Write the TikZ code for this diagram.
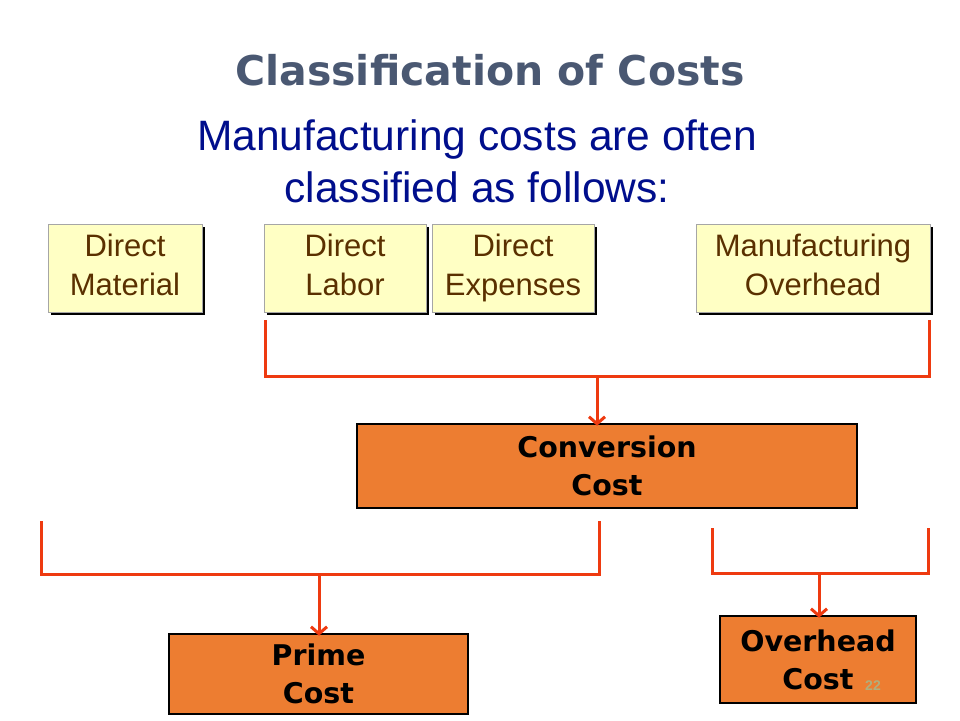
\documentclass[tikz,border=0pt]{standalone}
\usepackage{fontspec}
\setmainfont{Liberation Sans}
\newfontfamily\heavy{DejaVu Sans}
\usetikzlibrary{shadows,arrows.meta}
\definecolor{obx}{HTML}{ED7D31}
\definecolor{rln}{HTML}{EE3A10}
\definecolor{ttl}{HTML}{4A5872}
\definecolor{sbt}{HTML}{000E8C}
\definecolor{ybx}{HTML}{FFFFC4}
\definecolor{ytx}{HTML}{5A3000}
\begin{document}
\begin{tikzpicture}[x=1pt,y=-1pt,
  ybox/.style={draw=gray!70,fill=ybx,line width=0.8pt,inner sep=0pt,
    font=\fontsize{31}{39}\selectfont,text=ytx,align=center,
    drop shadow={shadow xshift=3pt,shadow yshift=-3pt,fill=black,opacity=1}},
  obox/.style={draw=black,fill=obx,line width=2.5pt,inner sep=0pt,
    font=\heavy\fontsize{28.5}{38}\selectfont\bfseries,align=center},
  red/.style={draw=rln,line width=3pt},
  arr/.style={red,-{Straight Barb[length=7pt,width=16pt,line width=3pt]}}]
\useasboundingbox (0,0) rectangle (960,720);
\node[text=ttl,font=\heavy\fontsize{41}{44}\selectfont\bfseries] (title) at (490,70) {Classification of Costs};
\node[text=sbt,font=\fontsize{42.5}{52}\selectfont,align=center] (sub) at (477,161) {Manufacturing costs are often\\classified as follows:};
\node[ybox,minimum width=154pt,minimum height=88pt] (dm) at (125,268) {Direct\\Material\vphantom{p}};
\node[ybox,minimum width=162pt,minimum height=88pt] (dl) at (345,268) {Direct\\Labor\vphantom{p}};
\node[ybox,minimum width=162pt,minimum height=88pt] (de) at (513,268) {Direct\\Expenses};
\node[ybox,minimum width=234pt,minimum height=88pt] (mo) at (813,268) {Manufacturing\\Overhead\vphantom{p}};
\node[obox,minimum width=500pt,minimum height=84pt] (cc) at (607,466) {Conversion\\Cost};
\node[obox,minimum width=299pt,minimum height=80pt] (pc) at (318.5,674) {Prime\\Cost};
\node[obox,minimum width=196pt,minimum height=87pt] (oc) at (818,659.5) {Overhead\\Cost};
\node[text=gray!70!yellow,font=\fontsize{14}{16}\selectfont\bfseries] (num) at (873,686) {22};
\coordinate (a1) at (265,320); \coordinate (a2) at (265,376);
\coordinate (a3) at (929,376); \coordinate (a4) at (929,320);
\coordinate (am) at (597,376);
\draw[red] (a1) -- (a2) -- (a3) -- (a4);
\draw[arr] (am) -- ([yshift=-3pt]cc.north -| am);
\coordinate (b1) at (41,521); \coordinate (b2) at (41,574);
\coordinate (b3) at (599,574); \coordinate (b4) at (599,521);
\coordinate (bm) at (319,574);
\draw[red] (b1) -- (b2) -- (b3) -- (b4);
\draw[arr] (bm) -- ([yshift=-3pt]pc.north -| bm);
\coordinate (c1) at (712,528); \coordinate (c2) at (712,573);
\coordinate (c3) at (928,573); \coordinate (c4) at (928,528);
\coordinate (cm) at (819,573);
\draw[red] (c1) -- (c2) -- (c3) -- (c4);
\draw[arr] (cm) -- ([yshift=-3pt]oc.north -| cm);
\end{tikzpicture}
\end{document}
